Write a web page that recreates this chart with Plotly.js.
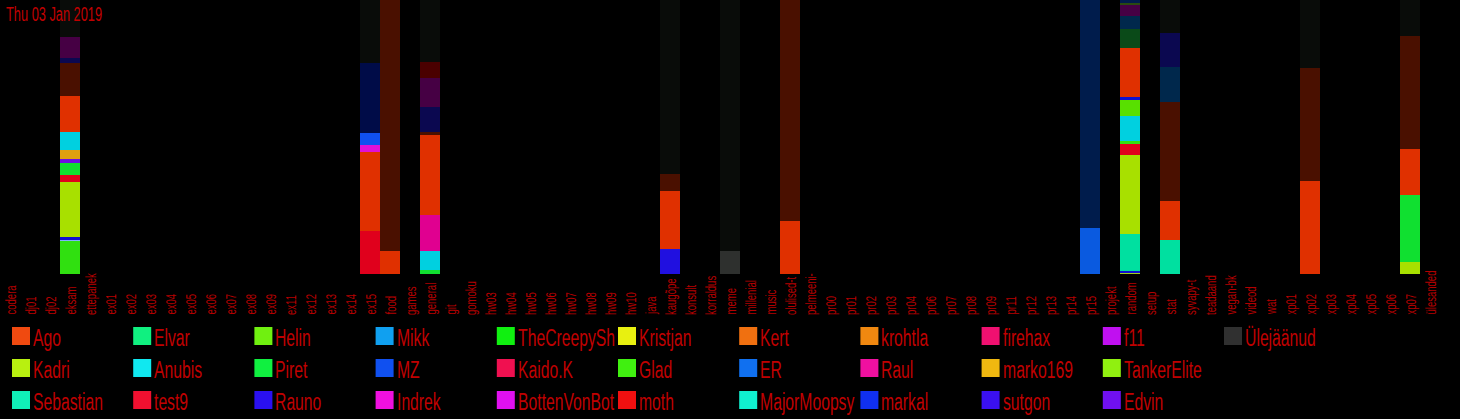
<!DOCTYPE html>
<html>
<head>
<meta charset="utf-8">
<script src="https://cdn.plot.ly/plotly-3.0.1.min.js"></script>
<style>
  html, body { margin: 0; padding: 0; background: #000; }
  #chart { width: 1460px; height: 419px; }
  #chart text.annotation-text { transform-box: fill-box; }
</style>
</head>
<body>
<div id="chart"></div>
<script>
// ---------- DATA ----------
const chartTitle = 'Thu 03 Jan 2019';

const channels = ['codera','dj01','dj02','eksam','ettepanek','ex01','ex02','ex03','ex04','ex05','ex06','ex07','ex08','ex09','ex11','ex12','ex13','ex14','ex15','food','games','general','git','gomoku','hw03','hw04','hw05','hw06','hw07','hw08','hw09','hw10','java','kaugõpe','konsult','korraldus','meme','millenial','music','olulised-t','pelmeeni-','pr00','pr01','pr02','pr03','pr04','pr06','pr07','pr08','pr09','pr11','pr12','pr13','pr14','pr15','projekt','random','setup','stat','syvapy-t','teadaand','vegan-bk','videod','wat','xp01','xp02','xp03','xp04','xp05','xp06','xp07','ülesanded'];

// stacked segments, listed bottom to top for each channel (relative share of messages)
const segChannel = [
  'eksam','eksam','eksam','eksam','eksam','eksam','eksam','eksam','eksam','eksam','eksam','eksam','eksam','eksam',
  'ex15','ex15','ex15','ex15','ex15','ex15',
  'food','food',
  'general','general','general','general','general','general','general','general','general',
  'kaugõpe','kaugõpe','kaugõpe','kaugõpe',
  'meme','meme',
  'olulised-t','olulised-t',
  'pr15','pr15',
  'random','random','random','random','random','random','random','random','random','random','random','random','random','random','random',
  'stat','stat','stat','stat','stat','stat',
  'xp02','xp02','xp02',
  'xp07','xp07','xp07','xp07','xp07'
];
const segUser = [
  'Glad','Mikk','markal','Kadri','test9','Piret','Edvin','marko169','Anubis','Ago','dimRed','dimNavy','dimPurple','dimRest',
  'test9','Ago','Indrek','MZ','dimNavy2','dimRest',
  'Ago','dimRed',
  'Piret','Anubis','Raul','Ago','dimRed','dimNavy','dimPurple','dimRed2','dimRest',
  'Rauno','Ago','dimRed','dimRest',
  'Ülejäänud','dimRest',
  'Ago','dimRed',
  'ER','dimNavy3',
  'TankerElite','markal','Sebastian','Kadri','test9','Glad','Anubis','Helin','markal','Ago','dimGreen','dimTeal','dimPurple','dimOlive','dimNavy3',
  'Sebastian','Ago','dimRed','dimTeal','dimNavy','dimRest',
  'Ago','dimRed','dimRest',
  'Kadri','Piret','Ago','dimRed','dimRest'
];
const segValue = [
  32,1,3,54,7,12,3,9,18,35,32,5,21,36,
  43,78,7,11,70,62,
  23,252,
  4,19,35,79,3,25,28,16,61,
  25,58,17,175,
  23,252,
  53,222,
  46,229,
  1,2,35,76,10,3,24,15,3,47,18,13,10,2,3,
  34,38,99,34,34,33,
  93,113,68,
  12,67,46,112,36
];

// legend (column by column, 3 rows)
const legendNames = ['Ago','Kadri','Sebastian','Elvar','Anubis','test9','Helin','Piret','Rauno','Mikk','MZ','Indrek','TheCreepySh','Kaido.K','BottenVonBot','Kristjan','Glad','moth','Kert','ER','MajorMoopsy','krohtla','Raul','markal','firehax','marko169','sutgon','f11','TankerElite','Edvin','Ülejäänud'];

// ---------- STYLE ----------
const legendColors = {
  'Ago':'#f04a10','Kadri':'#b8f010','Sebastian':'#10f0b8','Elvar':'#10f080','Anubis':'#10e8f0','test9':'#f01030',
  'Helin':'#70f010','Piret':'#10f040','Rauno':'#2a10f0','Mikk':'#10a0f0','MZ':'#1050f0','Indrek':'#f010e0',
  'TheCreepySh':'#10f010','Kaido.K':'#f01050','BottenVonBot':'#e010f0','Kristjan':'#e8f010','Glad':'#40f010','moth':'#f01010',
  'Kert':'#f07010','ER':'#1070f0','MajorMoopsy':'#10f0d0','krohtla':'#f08810','Raul':'#f010a0','markal':'#1030f0',
  'firehax':'#f01070','marko169':'#f0b810','sutgon':'#3a10f0','f11':'#c010f0','TankerElite':'#90f010','Edvin':'#7010f0',
  'Ülejäänud':'#303030'
};
const barColors = {
  'Ago':'#e03000','Kadri':'#a8e000','Sebastian':'#00e0a0','Anubis':'#00d0e0','test9':'#e0001c','Piret':'#10e030',
  'Glad':'#30e010','Rauno':'#2010e0','MZ':'#1050f0','Indrek':'#e010d8','Raul':'#e00090','ER':'#0a5ae0',
  'marko169':'#e0a010','Edvin':'#6e10e0','Helin':'#58e000','markal':'#1010d0','Mikk':'#80b0ff','TankerElite':'#a0d020',
  'Ülejäänud':'#2e302e',
  'dimRest':'#090c09','dimRed':'#4a1000','dimRed2':'#4a0000','dimPurple':'#460044','dimNavy':'#0b0850',
  'dimNavy2':'#000c48','dimNavy3':'#001c4c','dimTeal':'#00284c','dimGreen':'#0a4a18','dimOlive':'#2a4a10'
};

const W = 1460, H = 419, ML = 0, MR = 20, MT = 0, MB = 145;
const PW = W - ML - MR, PH = H - MT - MB;
const FONT = '"Liberation Sans", Arial, sans-serif';
const TXT = '#c00000';
const px2x = p => (p - ML) / PW;
const py2y = p => (PH + MT - p) / PH;

// ---------- TRACES ----------
const traces = segChannel.map((ch, i) => ({
  type: 'bar',
  x: [ch],
  y: [segValue[i]],
  name: segUser[i],
  marker: { color: barColors[segUser[i]], line: { width: 0 } },
  hoverinfo: 'skip',
  showlegend: false
}));

// ---------- ANNOTATIONS & SHAPES ----------
const annotations = [];
const annSqueeze = [];   // horizontal squeeze of each text (condensed look)
const shapes = [];

annotations.push({
  text: chartTitle, xref: 'paper', yref: 'paper',
  x: px2x(4), y: py2y(1), xanchor: 'left', yanchor: 'top',
  showarrow: false, font: { family: FONT, size: 20, color: TXT }
});
annSqueeze.push(0.64);

channels.forEach(ch => {
  annotations.push({
    text: ch, xref: 'x', yref: 'paper', x: ch, xshift: 1,
    y: py2y(317), yanchor: 'bottom', xanchor: 'center',
    textangle: -90, showarrow: false,
    font: { family: FONT, size: 14, color: '#b40000' }
  });
  annSqueeze.push(0.68);
});

const colStep = 121.2, colX0 = 12, rowY0 = 327, rowStep = 32, sq = 18;
legendNames.forEach((nm, i) => {
  const c = Math.floor(i / 3), r = i % 3;
  const x0 = colX0 + c * colStep, y0 = rowY0 + r * rowStep;
  shapes.push({
    type: 'rect', xref: 'paper', yref: 'paper',
    x0: px2x(x0), x1: px2x(x0 + sq), y0: py2y(y0 + sq), y1: py2y(y0),
    fillcolor: legendColors[nm], line: { width: 0 }
  });
  annotations.push({
    text: nm, xref: 'paper', yref: 'paper',
    x: px2x(x0 + sq + 1), y: py2y(y0 + sq / 2 + 1), xanchor: 'left', yanchor: 'middle',
    showarrow: false, font: { family: FONT, size: 24, color: TXT }
  });
  annSqueeze.push(0.655);
});

const layout = {
  width: W, height: H,
  margin: { l: ML, r: MR, t: MT, b: MB, pad: 0 },
  paper_bgcolor: '#000', plot_bgcolor: '#000',
  barmode: 'stack', barnorm: 'percent', bargap: 0,
  showlegend: false,
  xaxis: {
    type: 'category', categoryorder: 'array', categoryarray: channels,
    range: [-0.5, channels.length - 0.5],
    showgrid: false, zeroline: false, showline: false, showticklabels: false, ticks: ''
  },
  yaxis: {
    range: [0, 100], showgrid: false, zeroline: false, showline: false, showticklabels: false, ticks: ''
  },
  annotations: annotations,
  shapes: shapes,
  font: { family: FONT, color: TXT }
};

function squeezeTexts() {
  document.querySelectorAll('#chart g.annotation').forEach(g => {
    const idx = +g.getAttribute('data-index');
    const t = g.querySelector('text.annotation-text');
    if (!t || !annSqueeze[idx]) return;
    t.style.transformBox = 'fill-box';
    t.style.transformOrigin = 'left center';
    t.style.transform = 'scaleX(' + annSqueeze[idx] + ')';
  });
}

Plotly.newPlot('chart', traces, layout, { staticPlot: true, displayModeBar: false }).then(squeezeTexts);
</script>
</body>
</html>
